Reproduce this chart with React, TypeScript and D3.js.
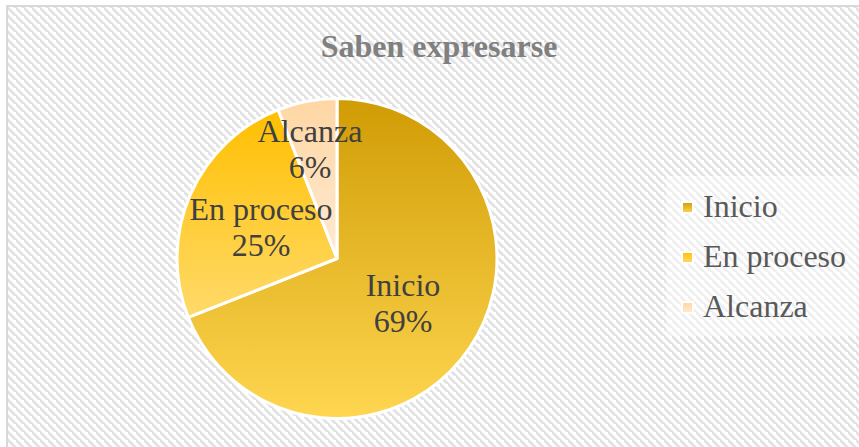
import React from "react";
import * as d3 from "d3";

const categories = ["Inicio", "En proceso", "Alcanza"];
const values = [69, 25, 6];
const percentLabels = ["69%", "25%", "6%"];
const title = "Saben expresarse";

const gradTop = ["#D09C05", "#FFBF00", "#FFD6A3"];
const gradBottom = ["#FFD650", "#FFDA6A", "#FFEAD2"];

const W = 859;
const H = 447;

export default function App() {
  const cx = 337;
  const cy = 258.5;
  const r = 160;
  const pie = d3.pie<number>().sort(null).value((d) => d)(values);
  const arc = d3.arc<d3.PieArcDatum<number>>().innerRadius(0).outerRadius(r);
  const labelPos: [number, number][] = [
    [403, 296],
    [261, 220],
    [310, 142],
  ];
  const serif = "'Liberation Serif', 'Times New Roman', serif";
  const legendY = d3.scaleBand<string>().domain(categories).range([182, 332]);
  return (
    <svg
      width={W}
      height={H}
      style={{ position: "absolute", left: 0, top: 0, display: "block" }}
    >
      <defs>
        <pattern id="hatch" patternUnits="userSpaceOnUse" width={8} height={8}>
          <rect width={8} height={8} fill="#ffffff" />
          <path
            d="M-2,-2 L10,10 M-6,2 L2,10 M6,-6 L14,2"
            stroke="#e2e2e2"
            strokeWidth={2.8}
          />
        </pattern>
        {categories.map((c, i) => (
          <linearGradient key={c} id={`g${i}`} x1="0" y1="0" x2="0" y2="1">
            <stop offset="0" stopColor={gradTop[i]} />
            <stop offset="1" stopColor={gradBottom[i]} />
          </linearGradient>
        ))}
      </defs>
      <rect x={0} y={0} width={W} height={H} fill="#ffffff" />
      <rect x={7} y={6} width={W + 20} height={H + 20} fill="url(#hatch)" stroke="#d9d9d9" strokeWidth={2} />
      <text
        x={439}
        y={57}
        textAnchor="middle"
        fontFamily={serif}
        fontWeight="bold"
        fontSize={32}
        fill="#808080"
      >
        {title}
      </text>
      <g transform={`translate(${cx},${cy})`}>
        {pie.map((p, i) => (
          <path key={i} d={arc(p) || ""} fill={`url(#g${i})`} stroke="#ffffff" strokeWidth={3} strokeLinejoin="round" />
        ))}
      </g>
      {pie.map((p, i) => (
        <text key={i} fontFamily={serif} fontSize={32} fill="#404040" textAnchor="middle">
          <tspan x={labelPos[i][0]} y={labelPos[i][1]}>{categories[i]}</tspan>
          <tspan x={labelPos[i][0]} y={labelPos[i][1] + 36}>{percentLabels[i]}</tspan>
        </text>
      ))}
      <rect x={666} y={176} width={200} height={160} fill="#ffffff" opacity={0.45} />
      {categories.map((c, i) => {
        const y = legendY(c)! + 20;
        return (
          <g key={c}>
            <rect x={682} y={y} width={11} height={11} fill={`url(#g${i})`} stroke="#ffffff" strokeWidth={2} />
            <text x={703} y={y + 15} fontFamily={serif} fontSize={32} fill="#595959">
              {c}
            </text>
          </g>
        );
      })}
    </svg>
  );
}
